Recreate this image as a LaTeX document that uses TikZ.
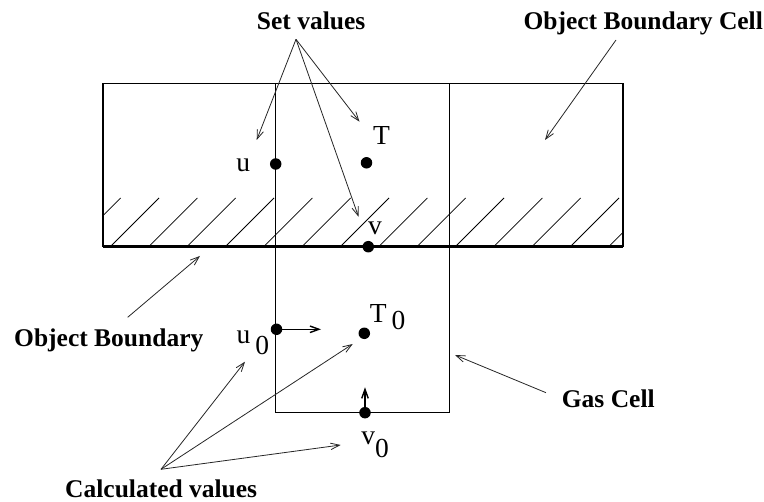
\documentclass[tikz,border=0pt]{standalone}
\usepackage{fontspec}
\setmainfont{Liberation Serif}
\usetikzlibrary{arrows.meta}
\begin{document}
\begin{tikzpicture}[x=1pt,y=-1pt,
  lbl/.style={font=\fontsize{25.5}{28}\selectfont\bfseries, inner sep=0pt, anchor=base west},
  sym/.style={font=\fontsize{27.5}{30}\selectfont, inner sep=0pt, anchor=base west},
  dot/.style={circle, fill=black, inner sep=0pt, minimum size=11.5pt},
  cell/.style={line width=1.2pt},
  hatch/.style={line width=0.8pt},
  pointer/.style={line width=0.8pt, draw=black!85, -{Straight Barb[length=9pt,width=6.5pt]}},
  vec/.style={line width=1.4pt, -{Straight Barb[length=9pt,width=6.5pt]}}]
\useasboundingbox (0,0) rectangle (764,502);
% hatching
\begin{scope}
  \clip (103,198) rectangle (623,247);
  \foreach \k in {-2,...,13}{
    \draw[hatch] ({110+38.333*\k},247) -- ({110+38.333*\k+49},198);
  }
\end{scope}
% cells
\draw[cell] (103,247) -- (103,83.3) -- (623,83.3) -- (623,247);
\draw[cell] (275.7,83.3) -- (275.7,412.7) -- (449.3,412.7) -- (449.3,83.3);
\draw[line width=3pt] (103,247) -- (623,247);
% dots
\node[dot] (u) at (275.7,164) {};
\node[dot] (T) at (366.5,162.8) {};
\node[dot] (v) at (368.3,246.7) {};
\node[dot] (u0) at (276.5,329.3) {};
\node[dot] (T0) at (364.3,333.3) {};
\node[dot] (v0) at (365,412.7) {};
% symbols
\node[sym] (ul) at (236.2,171.7) {u};
\node[sym] (Tl) at (373,145) {T};
\node[sym] (vl) at (367.8,235) {v};
\node[sym] (u0l) at (236.3,343.3) {u\kern5pt\raisebox{-11.7pt}{0}};
\node[sym] (T0l) at (369.6,322.5) {T\kern5pt\raisebox{-6.8pt}{0}};
\node[sym] (v0l) at (361.2,445) {v\kern0pt\raisebox{-12.3pt}{0}};
% velocity arrows
\coordinate (u0a) at (321,329.3);
\coordinate (v0a) at (365,387.3);
\draw[vec] (u0.center) -- (u0a);
\draw[vec] (v0.center) -- (v0a);
% labels
\node[lbl] (setv) at (256.7,30) {Set values};
\node[lbl] (obc) at (523.3,30) {Object Boundary Cell};
\node[lbl] (ob) at (14,346.7) {Object Boundary};
\node[lbl] (gas) at (561.7,407.7) {Gas Cell};
\node[lbl] (calc) at (65,497.5) {Calculated values};
% pointer coordinates
\coordinate (setS) at (296,39.3);
\coordinate (setU) at (256.7,140);
\coordinate (setT) at (359.5,121.7);
\coordinate (setV) at (358.5,216.7);
\coordinate (obcS) at (616,40);
\coordinate (obcE) at (545,140);
\coordinate (obS) at (127.7,317.3);
\coordinate (obE) at (200,256);
\coordinate (gasS) at (546,392.7);
\coordinate (gasE) at (455,355);
\coordinate (calcS) at (161,469.3);
\coordinate (calcU) at (245,361.7);
\coordinate (calcT) at (352.7,344);
\coordinate (calcV) at (340.7,445);
\draw[pointer] (setS) -- (setU);
\draw[pointer] (setS) -- (setT);
\draw[pointer] (setS) -- (setV);
\draw[pointer] (obcS) -- (obcE);
\draw[pointer] (obS) -- (obE);
\draw[pointer] (gasS) -- (gasE);
\draw[pointer] (calcS) -- (calcU);
\draw[pointer] (calcS) -- (calcT);
\draw[pointer] (calcS) -- (calcV);
\end{tikzpicture}
\end{document}
